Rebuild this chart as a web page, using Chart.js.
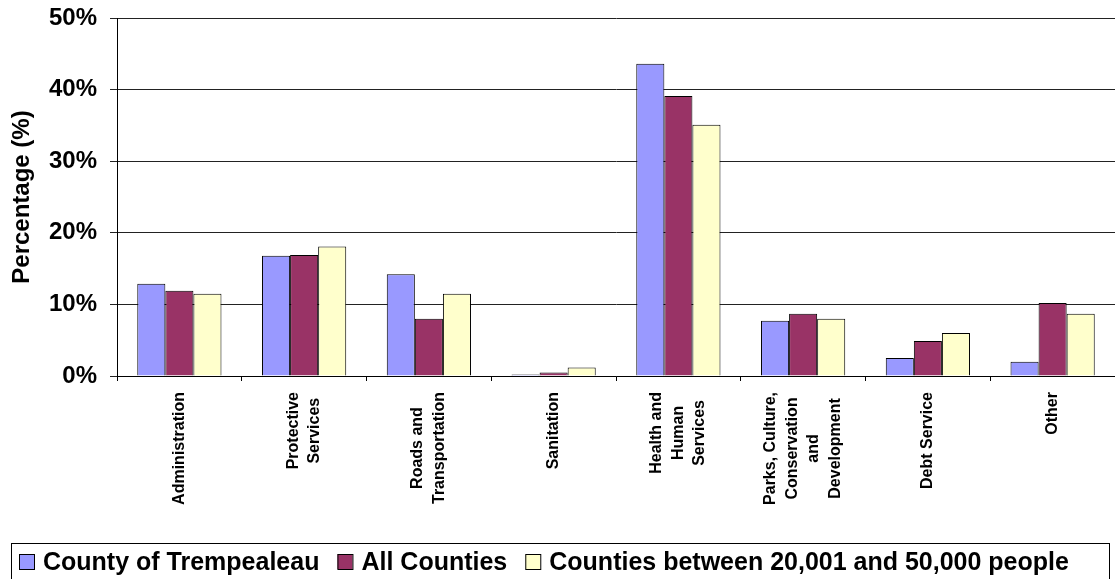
<!DOCTYPE html>
<html>
<head>
<meta charset="utf-8">
<script src="https://cdn.jsdelivr.net/npm/chart.js@4"></script>
<style>
  html, body { margin: 0; padding: 0; background: #fff; }
  canvas { display: block; }
</style>
</head>
<body>
<canvas id="chart" width="1115" height="579"></canvas>
<script>
// categories (one array of lines per label)
const categories = [
  ['Administration'],
  ['Protective', 'Services'],
  ['Roads and', 'Transportation'],
  ['Sanitation'],
  ['Health and', 'Human', 'Services'],
  ['Parks, Culture,', 'Conservation', 'and', 'Development'],
  ['Debt Service'],
  ['Other']
];
const seriesNames = ['County of Trempealeau', 'All Counties', 'Counties between 20,001 and 50,000 people'];
const countyValues = [12.9, 16.8, 14.2, 0.2, 43.6, 7.7, 2.5, 2.0];
const allCountiesValues = [11.9, 16.9, 8.0, 0.5, 39.1, 8.7, 4.9, 10.2];
const midCountiesValues = [11.5, 18.1, 11.5, 1.2, 35.1, 8.0, 6.0, 8.7];
const yMin = 0, yMax = 50, yStep = 10;

const FONT = '"Liberation Sans", Arial, sans-serif';

// rotated category labels, lines centred on each other
const categoryLabels = {
  id: 'categoryLabels',
  afterDraw(chart) {
    const ctx = chart.ctx;
    const xScale = chart.scales.x;
    ctx.save();
    ctx.font = 'bold 16px ' + FONT;
    ctx.fillStyle = '#000';
    ctx.textAlign = 'center';
    ctx.textBaseline = 'middle';
    categories.forEach((lines, i) => {
      const x = xScale.getPixelForValue(i);
      const w = Math.max(...lines.map(l => ctx.measureText(l).width));
      ctx.save();
      ctx.translate(x, xScale.top + 16);
      ctx.rotate(-Math.PI / 2);
      lines.forEach((l, j) => {
        ctx.fillText(l, -w / 2, (j - (lines.length - 1) / 2) * 21.7);
      });
      ctx.restore();
    });
    ctx.restore();
  }
};

// legend in a framed box under the labels
const boxLegend = {
  id: 'boxLegend',
  afterDraw(chart) {
    const ctx = chart.ctx;
    const top = chart.chartArea.bottom + 167;
    ctx.save();
    ctx.strokeStyle = '#000';
    ctx.lineWidth = 1;
    ctx.strokeRect(11.5, top + 0.5, chart.width - 17, chart.height - top + 5);
    ctx.font = 'bold 25px ' + FONT;
    ctx.textAlign = 'left';
    ctx.textBaseline = 'alphabetic';
    let x = 19;
    chart.data.datasets.forEach(ds => {
      ctx.fillStyle = ds.backgroundColor;
      ctx.fillRect(x, top + 11, 15, 15);
      ctx.strokeRect(x + 0.5, top + 11.5, 15, 15);
      ctx.fillStyle = '#000';
      ctx.fillText(ds.label, x + 24, top + 27);
      x += 24 + ctx.measureText(ds.label).width + 18;
    });
    ctx.restore();
  }
};

new Chart(document.getElementById('chart'), {
  type: 'bar',
  data: {
    labels: categories,
    datasets: [
      { label: seriesNames[0], data: countyValues, backgroundColor: '#9999FF', borderColor: '#000', borderWidth: 1 },
      { label: seriesNames[1], data: allCountiesValues, backgroundColor: '#993366', borderColor: '#000', borderWidth: 1 },
      { label: seriesNames[2], data: midCountiesValues, backgroundColor: '#FFFFCC', borderColor: '#000', borderWidth: 1 }
    ]
  },
  options: {
    responsive: false,
    animation: false,
    layout: { padding: { top: 18, left: 0, right: 0, bottom: 0 } },
    datasets: { bar: { categoryPercentage: 0.675, barPercentage: 1 } },
    plugins: {
      legend: { display: false },
      tooltip: { enabled: false }
    },
    scales: {
      x: {
        ticks: { display: false },
        grid: { drawOnChartArea: false, color: '#000', tickLength: 5, offset: true },
        border: { color: '#000' },
        afterFit: s => { s.height = 203; }
      },
      y: {
        min: yMin,
        max: yMax,
        ticks: {
          stepSize: yStep,
          padding: 13,
          color: '#000',
          font: { family: FONT, size: 24, weight: 'bold' },
          callback: v => v + '%'
        },
        grid: { color: '#222', tickLength: 7 },
        border: { color: '#000' },
        title: {
          display: true,
          text: 'Percentage (%)',
          color: '#000',
          font: { family: FONT, size: 24, weight: 'bold' },
          padding: { top: 8, bottom: 0 }
        },
        afterFit: s => {
          s.width = 117;
          s.paddingTop = 0;
          s.paddingBottom = 0;
        }
      }
    }
  },
  plugins: [categoryLabels, boxLegend]
});
</script>
</body>
</html>
